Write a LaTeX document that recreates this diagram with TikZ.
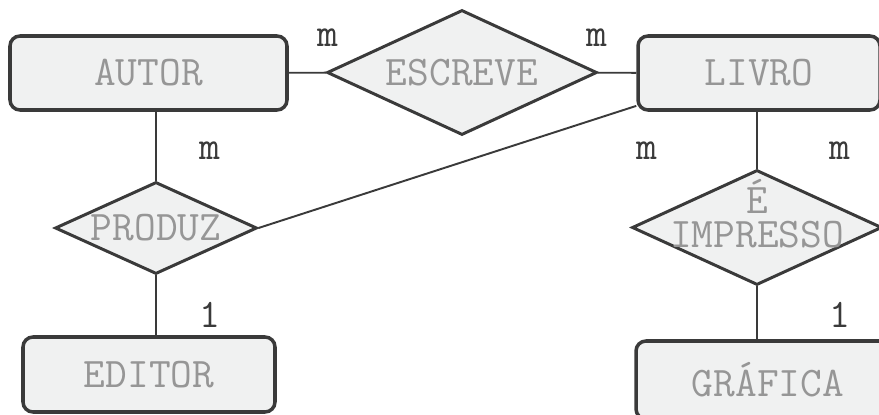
\documentclass[tikz,border=0pt]{standalone}
\usepackage{fontspec}
\usetikzlibrary{shapes.geometric}

\definecolor{boxfill}{RGB}{240,241,241}
\definecolor{boxline}{RGB}{58,58,58}
\definecolor{nametext}{RGB}{150,150,150}

\begin{document}
\begin{tikzpicture}[
        font=\ttfamily,
        entity/.style={rectangle, rounded corners=0.2cm, draw=boxline, line width=2pt, fill=boxfill,
            text=nametext, font=\ttfamily\fontsize{24}{18}\selectfont, inner sep=0pt},
        relation/.style={diamond, aspect=2.2, draw=boxline, line width=1.7pt, fill=boxfill,
            inner xsep=-0.5cm, inner ysep=-0.3cm, align=center,
            text=nametext, font=\ttfamily\fontsize{24}{18}\selectfont},
        link/.style={draw=boxline, line width=1.1pt},
        card/.style={anchor=base, text=boxline, font=\ttfamily\fontsize{23}{26}\selectfont},
    ]
    \useasboundingbox (0,0) rectangle (17.58,8.28);

        % Draw the entities
        \node[entity, minimum width=5.54cm, minimum height=1.48cm] (autor) at (2.97,6.82) {AUTOR};
        \node[entity, minimum width=4.84cm, minimum height=1.48cm] (livro) at (15.18,6.82) {LIVRO};
        \node[entity, minimum width=5.04cm, minimum height=1.5cm] (editor) at (2.98,0.79) {EDITOR};
        \node[entity, minimum width=5.28cm, minimum height=1.56cm] (grafica) at (15.36,0.68) {GRÁFICA};

        % Draw the relations
        \node[relation, minimum width=5.4cm, minimum height=2.5cm] (escreve) at (9.24,6.83) {ESCREVE};
        \node[relation, minimum width=4.04cm, minimum height=1.84cm] (produz) at (3.12,3.72) {PRODUZ};
        \node[relation, minimum width=5cm, minimum height=2.3cm, inner ysep=-0.7cm,
            font=\ttfamily\fontsize{24}{19.5}\selectfont] (impresso) at (15.14,3.73)
            {É\\IMPRESSO\rule[-0.56cm]{0pt}{0.56cm}};

        % Connect the entities with the relations
        \path[link] (autor) -- (escreve);
        \path[link] (escreve) -- (livro);
        \path[link] (produz.north) -- (produz.north |- autor.south);
        \path[link] (produz.south) -- (produz.south |- editor.north);
        \path[link] (produz.east) -- (livro.195);
        \path[link] (impresso.north) -- (impresso.north |- livro.south);
        \path[link] (impresso.south) -- (impresso.south |- grafica.north);

        % Cardinalities
        \foreach \name / \x / \y / \n in {c1/6.56/7.34/m, c2/11.94/7.34/m, c3/4.2/5.08/m, c4/12.94/5.08/m,
                c5/16.8/5.08/m, c6/4.2/1.74/1, c7/16.8/1.74/1}
            \node[card] (\name) at (\x,\y) {\n};
    \end{tikzpicture}
\end{document}
